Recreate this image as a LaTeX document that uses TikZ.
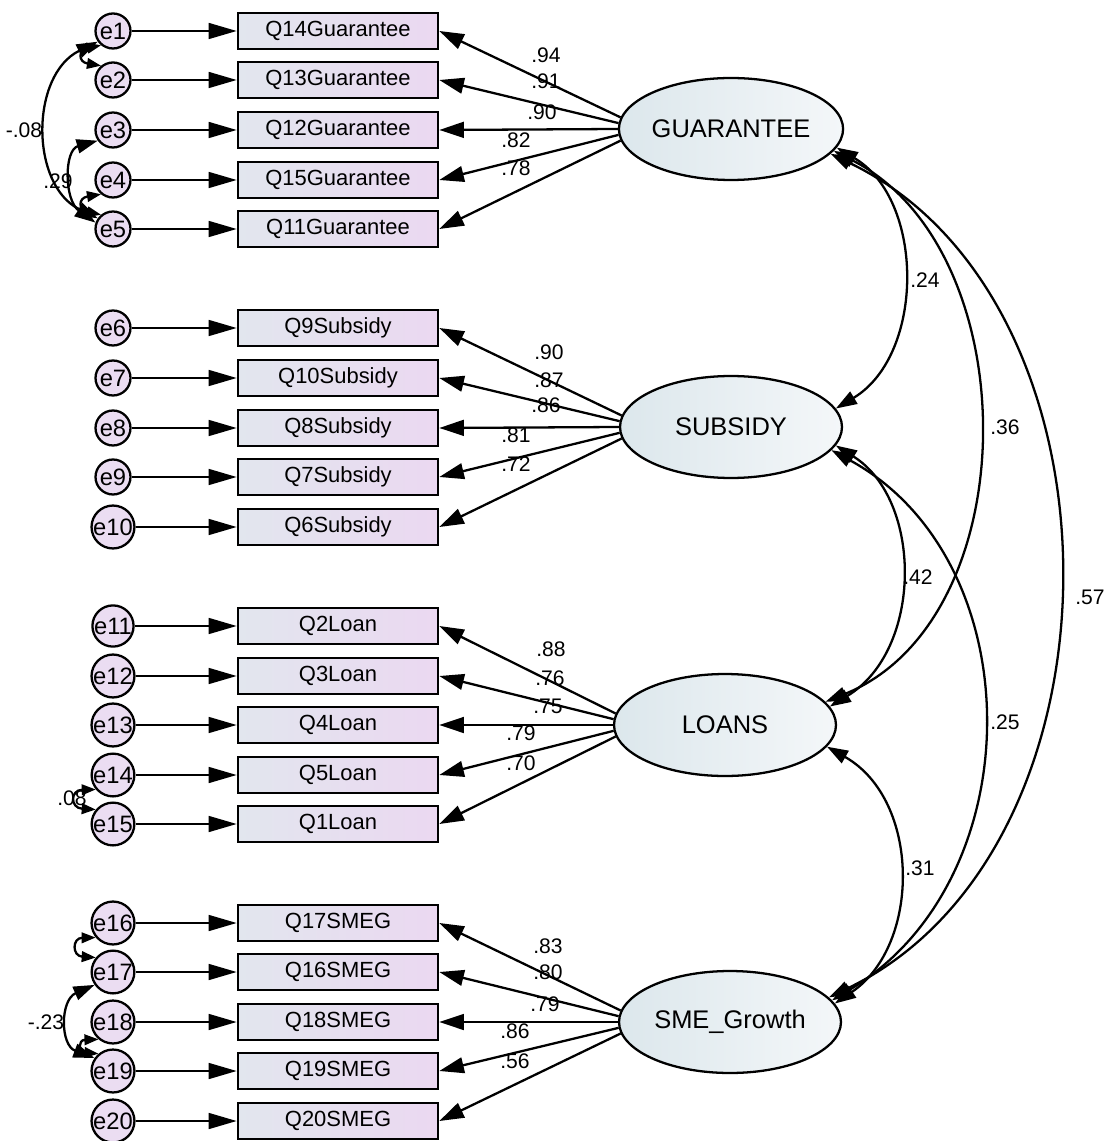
\documentclass[tikz,border=0pt]{standalone}
\usepackage{fontspec}
\setmainfont{Liberation Sans}
\usetikzlibrary{arrows.meta,shapes.geometric}

\definecolor{boxleft}{HTML}{E2E6EE}
\definecolor{boxright}{HTML}{EBD8F1}
\definecolor{errfill}{HTML}{EBDDF2}
\definecolor{latleft}{HTML}{DCE7EC}
\definecolor{latright}{HTML}{F4F7F9}

\tikzset{
	errnode/.style={circle, draw, line width=1.3pt, fill=errfill, minimum size=0.7cm, inner sep=0pt, font=\fontsize{13.5}{13.5}\selectfont},
	itembox/.style={rectangle, draw, line width=1.5pt, left color=boxleft, right color=boxright, minimum width=4cm, minimum height=0.72cm, inner sep=0pt, font=\fontsize{12.5}{13}\selectfont},
	latent/.style={ellipse, draw, line width=1.3pt, left color=latleft, right color=latright, minimum width=4.44cm, minimum height=2.04cm, inner sep=0pt, font=\fontsize{14.5}{15}\selectfont},
	errarrow/.style={-{Triangle[length=16pt,width=9pt]}, line width=1.3pt},
	loadarrow/.style={-{Triangle[length=14pt,width=9pt]}, line width=1.3pt},
	covarrow/.style={{Triangle[length=12pt,width=8pt]}-{Triangle[length=12pt,width=8pt]}, line width=1.3pt},
	smallcov/.style={{Triangle[length=8pt,width=6pt]}-{Triangle[length=8pt,width=6pt]}, line width=1.3pt},
	coef/.style={font=\fontsize{12}{12}\selectfont, inner sep=0pt},
}

\begin{document}
\begin{tikzpicture}[x=0.02cm, y=-0.02cm]
		
		\useasboundingbox (0,0) rectangle (1103,1141);
		
		% Latent variables
		\node[latent] (guar) at (731,129) {GUARANTEE};
		\node[latent] (subs) at (731,427) {SUBSIDY};
		\node[latent] (loans) at (725,725) {LOANS};
		\node[latent] (smeg) at (730,1022) {SME\_Growth};
		
		% Observed items
		\node[itembox] (q14) at (338,31) {Q14Guarantee};
		\node[itembox] (q13) at (338,80) {Q13Guarantee};
		\node[itembox] (q12) at (338,130) {Q12Guarantee};
		\node[itembox] (q15) at (338,180) {Q15Guarantee};
		\node[itembox] (q11) at (338,229) {Q11Guarantee};
		
		\node[itembox] (q9) at (338,328) {Q9Subsidy};
		\node[itembox] (q10) at (338,378) {Q10Subsidy};
		\node[itembox] (q8) at (338,428) {Q8Subsidy};
		\node[itembox] (q7) at (338,477) {Q7Subsidy};
		\node[itembox] (q6) at (338,527) {Q6Subsidy};
		
		\node[itembox] (q2) at (338,626) {Q2Loan};
		\node[itembox] (q3) at (338,676) {Q3Loan};
		\node[itembox] (q4) at (338,725) {Q4Loan};
		\node[itembox] (q5) at (338,775) {Q5Loan};
		\node[itembox] (q1) at (338,824) {Q1Loan};
		
		\node[itembox] (q17) at (338,923) {Q17SMEG};
		\node[itembox] (q16) at (338,972) {Q16SMEG};
		\node[itembox] (q18) at (338,1022) {Q18SMEG};
		\node[itembox] (q19) at (338,1071) {Q19SMEG};
		\node[itembox] (q20) at (338,1121) {Q20SMEG};
		
		% Error terms
		\node[errnode] (e1) at (113,31) {e1};
		\node[errnode] (e2) at (113,80) {e2};
		\node[errnode] (e3) at (113,130) {e3};
		\node[errnode] (e4) at (113,180) {e4};
		\node[errnode] (e5) at (113,229) {e5};
		\node[errnode] (e6) at (113,328) {e6};
		\node[errnode] (e7) at (113,378) {e7};
		\node[errnode] (e8) at (113,428) {e8};
		\node[errnode] (e9) at (113,477) {e9};
		\node[errnode] (e10) at (113,527) {e10};
		\node[errnode] (e11) at (113,626) {e11};
		\node[errnode] (e12) at (113,676) {e12};
		\node[errnode] (e13) at (113,725) {e13};
		\node[errnode] (e14) at (113,775) {e14};
		\node[errnode] (e15) at (113,824) {e15};
		\node[errnode] (e16) at (113,923) {e16};
		\node[errnode] (e17) at (113,972) {e17};
		\node[errnode] (e18) at (113,1022) {e18};
		\node[errnode] (e19) at (113,1071) {e19};
		\node[errnode] (e20) at (113,1121) {e20};
		
		% Error paths
		\draw[errarrow] (e1) -- (q14);
		\draw[errarrow] (e2) -- (q13);
		\draw[errarrow] (e3) -- (q12);
		\draw[errarrow] (e4) -- (q15);
		\draw[errarrow] (e5) -- (q11);
		\draw[errarrow] (e6) -- (q9);
		\draw[errarrow] (e7) -- (q10);
		\draw[errarrow] (e8) -- (q8);
		\draw[errarrow] (e9) -- (q7);
		\draw[errarrow] (e10) -- (q6);
		\draw[errarrow] (e11) -- (q2);
		\draw[errarrow] (e12) -- (q3);
		\draw[errarrow] (e13) -- (q4);
		\draw[errarrow] (e14) -- (q5);
		\draw[errarrow] (e15) -- (q1);
		\draw[errarrow] (e16) -- (q17);
		\draw[errarrow] (e17) -- (q16);
		\draw[errarrow] (e18) -- (q18);
		\draw[errarrow] (e19) -- (q19);
		\draw[errarrow] (e20) -- (q20);
		
		% Loadings
		\draw[loadarrow] (guar.174) -- (q14.east);
		\draw[loadarrow] (guar.177) -- (q13.east);
		\draw[loadarrow] (guar.180) -- (q12.east);
		\draw[loadarrow] (guar.183) -- (q15.east);
		\draw[loadarrow] (guar.186) -- (q11.east);
		\draw[loadarrow] (subs.174) -- (q9.east);
		\draw[loadarrow] (subs.177) -- (q10.east);
		\draw[loadarrow] (subs.180) -- (q8.east);
		\draw[loadarrow] (subs.183) -- (q7.east);
		\draw[loadarrow] (subs.186) -- (q6.east);
		\draw[loadarrow] (loans.174) -- (q2.east);
		\draw[loadarrow] (loans.177) -- (q3.east);
		\draw[loadarrow] (loans.180) -- (q4.east);
		\draw[loadarrow] (loans.183) -- (q5.east);
		\draw[loadarrow] (loans.186) -- (q1.east);
		\draw[loadarrow] (smeg.174) -- (q17.east);
		\draw[loadarrow] (smeg.177) -- (q16.east);
		\draw[loadarrow] (smeg.180) -- (q18.east);
		\draw[loadarrow] (smeg.183) -- (q19.east);
		\draw[loadarrow] (smeg.186) -- (q20.east);
		
		% Loading estimates
		\node[coef] (w1) at (546,55) {.94};
		\node[coef] (w2) at (546,81) {.91};
		\node[coef] (w3) at (542,112) {.90};
		\node[coef] (w4) at (516,140) {.82};
		\node[coef] (w5) at (516,168) {.78};
		\node[coef] (w6) at (549,352) {.90};
		\node[coef] (w7) at (549,380) {.87};
		\node[coef] (w8) at (546,405) {.86};
		\node[coef] (w9) at (516,435) {.81};
		\node[coef] (w10) at (516,464) {.72};
		\node[coef] (w11) at (551,649) {.88};
		\node[coef] (w12) at (550,678) {.76};
		\node[coef] (w13) at (548,706) {.75};
		\node[coef] (w14) at (521,733) {.79};
		\node[coef] (w15) at (521,763) {.70};
		\node[coef] (w16) at (548,946) {.83};
		\node[coef] (w17) at (548,972) {.80};
		\node[coef] (w18) at (545,1004) {.79};
		\node[coef] (w19) at (515,1031) {.86};
		\node[coef] (w20) at (515,1061) {.56};
		
		% Error covariances
		\draw[covarrow] (e1.215) .. controls (30,75) and (30,185) .. (e5.145);
		\draw[covarrow] (e3.215) .. controls (64,150) and (64,200) .. (e5.160);
		\draw[smallcov] (e1.230) .. controls (78,50) and (78,62) .. (e2.130);
		\draw[smallcov] (e4.230) .. controls (78,198) and (78,210) .. (e5.130);
		\draw[smallcov] (e14.220) .. controls (70,790) and (70,808) .. (e15.140);
		\draw[smallcov] (e16.220) .. controls (72,938) and (72,956) .. (e17.140);
		\draw[covarrow] (e17.215) .. controls (60,1000) and (60,1045) .. (e19.145);
		\draw[smallcov] (e18.230) .. controls (78,1040) and (78,1052) .. (e19.130);
		\node[coef] (r1) at (24,130) {-.08};
		\node[coef] (r2) at (58,181) {.29};
		\node[coef] (r3) at (72,798) {.08};
		\node[coef] (r4) at (46,1022) {-.23};
		
		% Factor covariances
		\draw[covarrow] (guar.-10) .. controls (925,200) and (925,355) .. (subs.10);
		\draw[covarrow] (guar.-12) .. controls (1028,250) and (1028,620) .. (loans.13);
		\draw[covarrow] (guar.-14) .. controls (1135,300) and (1135,850) .. (smeg.14);
		\draw[covarrow] (subs.-10) .. controls (923,500) and (923,650) .. (loans.10);
		\draw[covarrow] (subs.-13) .. controls (1033,560) and (1033,880) .. (smeg.12);
		\draw[covarrow] (loans.-12) .. controls (921,800) and (921,945) .. (smeg.10);
		\node[coef] (c1) at (925,280) {.24};
		\node[coef] (c2) at (1005,427) {.36};
		\node[coef] (c3) at (1090,597) {.57};
		\node[coef] (c4) at (918,577) {.42};
		\node[coef] (c5) at (1005,722) {.25};
		\node[coef] (c6) at (920,868) {.31};
		
	\end{tikzpicture}
\end{document}
